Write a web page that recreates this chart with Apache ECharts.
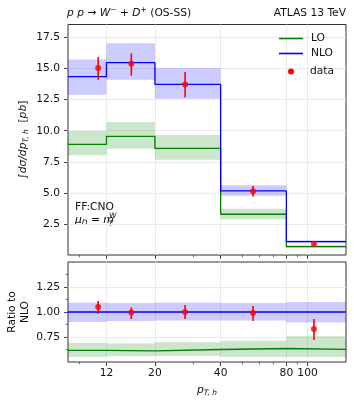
<!DOCTYPE html>
<html>
<head>
<meta charset="utf-8">
<script src="https://cdn.jsdelivr.net/npm/echarts@6/dist/echarts.min.js"></script>
<style>
html,body{margin:0;padding:0;background:#fff;}
#chart{width:354px;height:403px;}
</style>
</head>
<body>
<div id="chart"></div>
<script>
// ---- data ----
const binEdges = [8, 12, 20, 40, 80, 150];
const nloVal = [14.35, 15.48, 13.73, 5.16, 1.07];
const nloLo  = [12.9, 14.1, 12.58, 4.76, 0.96];
const nloHi  = [15.73, 17.04, 15.05, 5.62, 1.18];
const loVal  = [8.9, 9.55, 8.58, 3.28, 0.67];
const loLo   = [8.02, 8.55, 7.66, 2.88, 0.59];
const loHi   = [9.98, 10.7, 9.65, 3.73, 0.81];
const dataX     = [11.0, 15.6, 27.5, 56.3, 107];
const dataY     = [15.05, 15.4, 13.73, 5.14, 0.89];
const dataErrLo = [14.1, 14.44, 12.7, 4.70, 0.78];
const dataErrHi = [15.94, 16.23, 14.73, 5.56, 1.0];
const ratioNloVal = [1, 1, 1, 1, 1];
const ratioNloLo  = [0.90, 0.91, 0.915, 0.915, 0.895];
const ratioNloHi  = [1.094, 1.09, 1.095, 1.09, 1.10];
const ratioLoVal  = [0.617, 0.612, 0.625, 0.635, 0.627];
const ratioLoLo   = [0.55, 0.557, 0.56, 0.55, 0.55];
const ratioLoHi   = [0.69, 0.684, 0.697, 0.713, 0.757];
const ratioDataY  = [1.05, 0.995, 1.0, 0.99, 0.83];
const ratioDataLo = [0.98, 0.93, 0.93, 0.91, 0.72];
const ratioDataHi = [1.11, 1.045, 1.07, 1.06, 0.93];
const xMajorTicks = [12, 20, 40, 80, 100];
const xMinorTicks = [9, 30, 50, 60, 70, 90];
const yTopTicks = [2.5, 5, 7.5, 10, 12.5, 15, 17.5];
const yRatioTicks = [0.75, 1.0, 1.25];
const yRatioMinor = [0.625, 0.875, 1.125, 1.375];

// ---- helpers ----
const FONT = 'DejaVu Sans';
const FS = 10.7;
const AX = '#333';
const GRIDC = '#ebebeb';
function stepData(vals){
  const d = vals.map((v,i)=>[binEdges[i], v]);
  d.push([binEdges[binEdges.length-1], vals[vals.length-1]]);
  return d;
}
function bandData(lo, hi){
  return lo.map((l,i)=>[binEdges[i], binEdges[i+1], l, hi[i]]);
}
function errData(x, lo, hi){ return x.map((v,i)=>[v, lo[i], hi[i]]); }
function bandSeries(name, xi, yi, lo, hi, color){
  return {
    type:'custom', name:name, xAxisIndex:xi, yAxisIndex:yi, z:1, silent:true,
    data: bandData(lo, hi),
    encode:{x:[0,1], y:[2,3]},
    renderItem:function(params, api){
      const p0 = api.coord([api.value(0), api.value(3)]);
      const p1 = api.coord([api.value(1), api.value(2)]);
      return {type:'rect', shape:{x:p0[0], y:p0[1], width:p1[0]-p0[0], height:p1[1]-p0[1]}, style:{fill:color}};
    }
  };
}
function errSeries(xi, yi, lo, hi){
  return {
    type:'custom', name:'data', xAxisIndex:xi, yAxisIndex:yi, z:5, silent:true,
    itemStyle:{color:'#ff0000'},
    data: errData(dataX, lo, hi),
    encode:{x:0, y:[1,2]},
    renderItem:function(params, api){
      const a = api.coord([api.value(0), api.value(1)]);
      const b = api.coord([api.value(0), api.value(2)]);
      return {type:'line', shape:{x1:a[0], y1:a[1], x2:b[0], y2:b[1]}, style:{stroke:'#ff0000', lineWidth:1.6}};
    }
  };
}
function stepSeries(name, xi, yi, vals, color){
  return {type:'line', name:name, xAxisIndex:xi, yAxisIndex:yi, step:'end', showSymbol:false, symbol:'none',
    data: stepData(vals), lineStyle:{color:color, width:1.3}, itemStyle:{color:color}, z:3, animation:false};
}
function pointSeries(xi, yi, ys){
  return {type:'scatter', name:'data', xAxisIndex:xi, yAxisIndex:yi, symbolSize:6,
    itemStyle:{color:'#ff0000'}, z:6, data: dataX.map((x,i)=>[x, ys[i]])};
}
function xMain(gi, showLabels){
  return {type:'log', logBase:10, gridIndex:gi, min:8, max:150, position:'bottom',
    axisLine:{show:false},
    axisTick:{show:true, customValues:xMajorTicks, length:4, lineStyle:{color:AX, width:0.9}},
    axisLabel:{show:showLabels, customValues:xMajorTicks, formatter:v=>String(Math.round(v)), fontFamily:FONT, fontSize:FS, color:'#111', margin:6},
    splitLine:{show:true, lineStyle:{color:GRIDC, width:1}},
    minorTick:{show:false}, minorSplitLine:{show:false}
  };
}
function xMinor(gi){
  return {type:'log', logBase:10, gridIndex:gi, min:8, max:150, position:'bottom', offset:0,
    axisLine:{show:false},
    axisTick:{show:true, customValues:xMinorTicks, length:2.2, lineStyle:{color:AX, width:0.7}},
    axisLabel:{show:false, customValues:xMinorTicks},
    splitLine:{show:false}
  };
}
const rich = {
  n:{fontFamily:FONT, fontSize:FS, fontWeight:'normal', color:'#111'},
  it:{fontFamily:FONT, fontSize:FS, fontWeight:'normal', fontStyle:'italic', color:'#111'},
  sup:{fontFamily:FONT, fontSize:7.5, fontWeight:'normal', color:'#111', padding:[0,0,7,0]},
  sub:{fontFamily:FONT, fontSize:7.5, fontWeight:'normal', fontStyle:'italic', color:'#111', padding:[6,0,0,0]}
};

const chart = echarts.init(document.getElementById('chart'), null, {renderer:'canvas'});
const option = {
  animation:false,
  backgroundColor:'#fff',
  textStyle:{fontFamily:FONT},
  title:[
    {left:67, top:6, padding:0, text:'{it|p p}{n| → }{it|W}{sup|−}{n| + }{it|D}{sup|+}{n| (OS-SS)}', textStyle:{fontWeight:'normal', rich:rich}},
    {right:8, top:8, padding:0, text:'ATLAS 13 TeV', textStyle:{fontFamily:FONT, fontSize:FS, fontWeight:'normal', color:'#111'}},
    {left:75, top:202, padding:0, text:'FF:CNO', textStyle:{fontFamily:FONT, fontSize:FS, fontWeight:'normal', color:'#111'}}
  ],
  graphic:[
    {type:'text', left:75, top:215, style:{text:'{it|μ}{sub|D}{n| = }{it|m}', rich:rich}},
    {type:'text', left:109, top:212.5, style:{text:'W', fontFamily:FONT, fontSize:7.5, fontStyle:'italic', fill:'#111'}},
    {type:'text', left:108.5, top:220.5, style:{text:'T', fontFamily:FONT, fontSize:7.5, fontStyle:'italic', fill:'#111'}}
  ],
  legend:[
    {data:['LO','NLO'], orient:'vertical', left:279, top:33, padding:0, itemWidth:24, itemHeight:1.6, itemGap:4, icon:'rect',
     textStyle:{fontFamily:FONT, fontSize:FS, color:'#111', padding:[0,0,0,3]}},
    {data:['data'], left:288, top:66, padding:0, itemWidth:6, itemHeight:6, icon:'circle',
     textStyle:{fontFamily:FONT, fontSize:FS, color:'#111', padding:[0,0,0,11]}}
  ],
  grid:[
    {left:68, right:8, top:24.5, height:230.5, show:true, borderColor:AX, borderWidth:1, backgroundColor:'transparent', outerBoundsMode:'none', containLabel:false},
    {left:68, right:8, top:262, height:100, show:true, borderColor:AX, borderWidth:1, backgroundColor:'transparent', outerBoundsMode:'none', containLabel:false}
  ],
  xAxis:[ xMain(0,false), xMinor(0), xMain(1,true), xMinor(1) ],
  yAxis:[
    {type:'value', gridIndex:0, min:0, max:18.55, position:'left',
     axisLine:{show:false},
     axisTick:{show:true, customValues:yTopTicks, length:4, lineStyle:{color:AX, width:0.9}},
     axisLabel:{customValues:yTopTicks, formatter:v=>v.toFixed(1), fontFamily:FONT, fontSize:FS, color:'#111', margin:8},
     splitLine:{show:true, lineStyle:{color:GRIDC}},
     name:'{n|∫}{it|dσ/dp}{sub|T, h}{n|  [}{it|pb}{n|]}', nameLocation:'middle', nameRotate:90, nameGap:38, nameMoveOverlap:false,
     nameTextStyle:{rich:rich}
    },
    {type:'value', gridIndex:1, min:0.5, max:1.5, position:'left',
     axisLine:{show:false},
     axisTick:{show:true, customValues:yRatioTicks, length:4, lineStyle:{color:AX, width:0.9}},
     axisLabel:{customValues:yRatioTicks, formatter:v=>v.toFixed(2), fontFamily:FONT, fontSize:FS, color:'#111', margin:8},
     splitLine:{show:true, lineStyle:{color:GRIDC}},
     name:'Ratio to\nNLO', nameLocation:'middle', nameRotate:90, nameGap:36, nameMoveOverlap:false,
     nameTextStyle:{fontFamily:FONT, fontSize:FS, color:'#111', lineHeight:13}
    },
    {type:'value', gridIndex:1, min:0.5, max:1.5, position:'left', offset:0,
     axisLine:{show:false},
     axisTick:{show:true, customValues:yRatioMinor, length:2.2, lineStyle:{color:AX, width:0.7}},
     axisLabel:{show:false, customValues:yRatioMinor},
     splitLine:{show:false}
    }
  ],
  series:[
    bandSeries('NLOband', 0, 0, nloLo, nloHi, 'rgba(0,0,255,0.2)'),
    bandSeries('LOband', 0, 0, loLo, loHi, 'rgba(0,128,0,0.2)'),
    stepSeries('LO', 0, 0, loVal, '#008000'),
    stepSeries('NLO', 0, 0, nloVal, '#0000ff'),
    errSeries(0, 0, dataErrLo, dataErrHi),
    pointSeries(0, 0, dataY),
    bandSeries('NLOband', 2, 1, ratioNloLo, ratioNloHi, 'rgba(0,0,255,0.2)'),
    bandSeries('LOband', 2, 1, ratioLoLo, ratioLoHi, 'rgba(0,128,0,0.2)'),
    stepSeries('LO', 2, 1, ratioLoVal, '#008000'),
    stepSeries('NLO', 2, 1, ratioNloVal, '#0000ff'),
    errSeries(2, 1, ratioDataLo, ratioDataHi),
    pointSeries(2, 1, ratioDataY)
  ]
};
option.xAxis[2].name = '{it|p}{sub|T, h}';
option.xAxis[2].nameLocation = 'middle';
option.xAxis[2].nameGap = 21;
option.xAxis[2].nameMoveOverlap = false;
option.xAxis[2].nameTextStyle = {rich:rich};
chart.setOption(option);
</script>
</body>
</html>
